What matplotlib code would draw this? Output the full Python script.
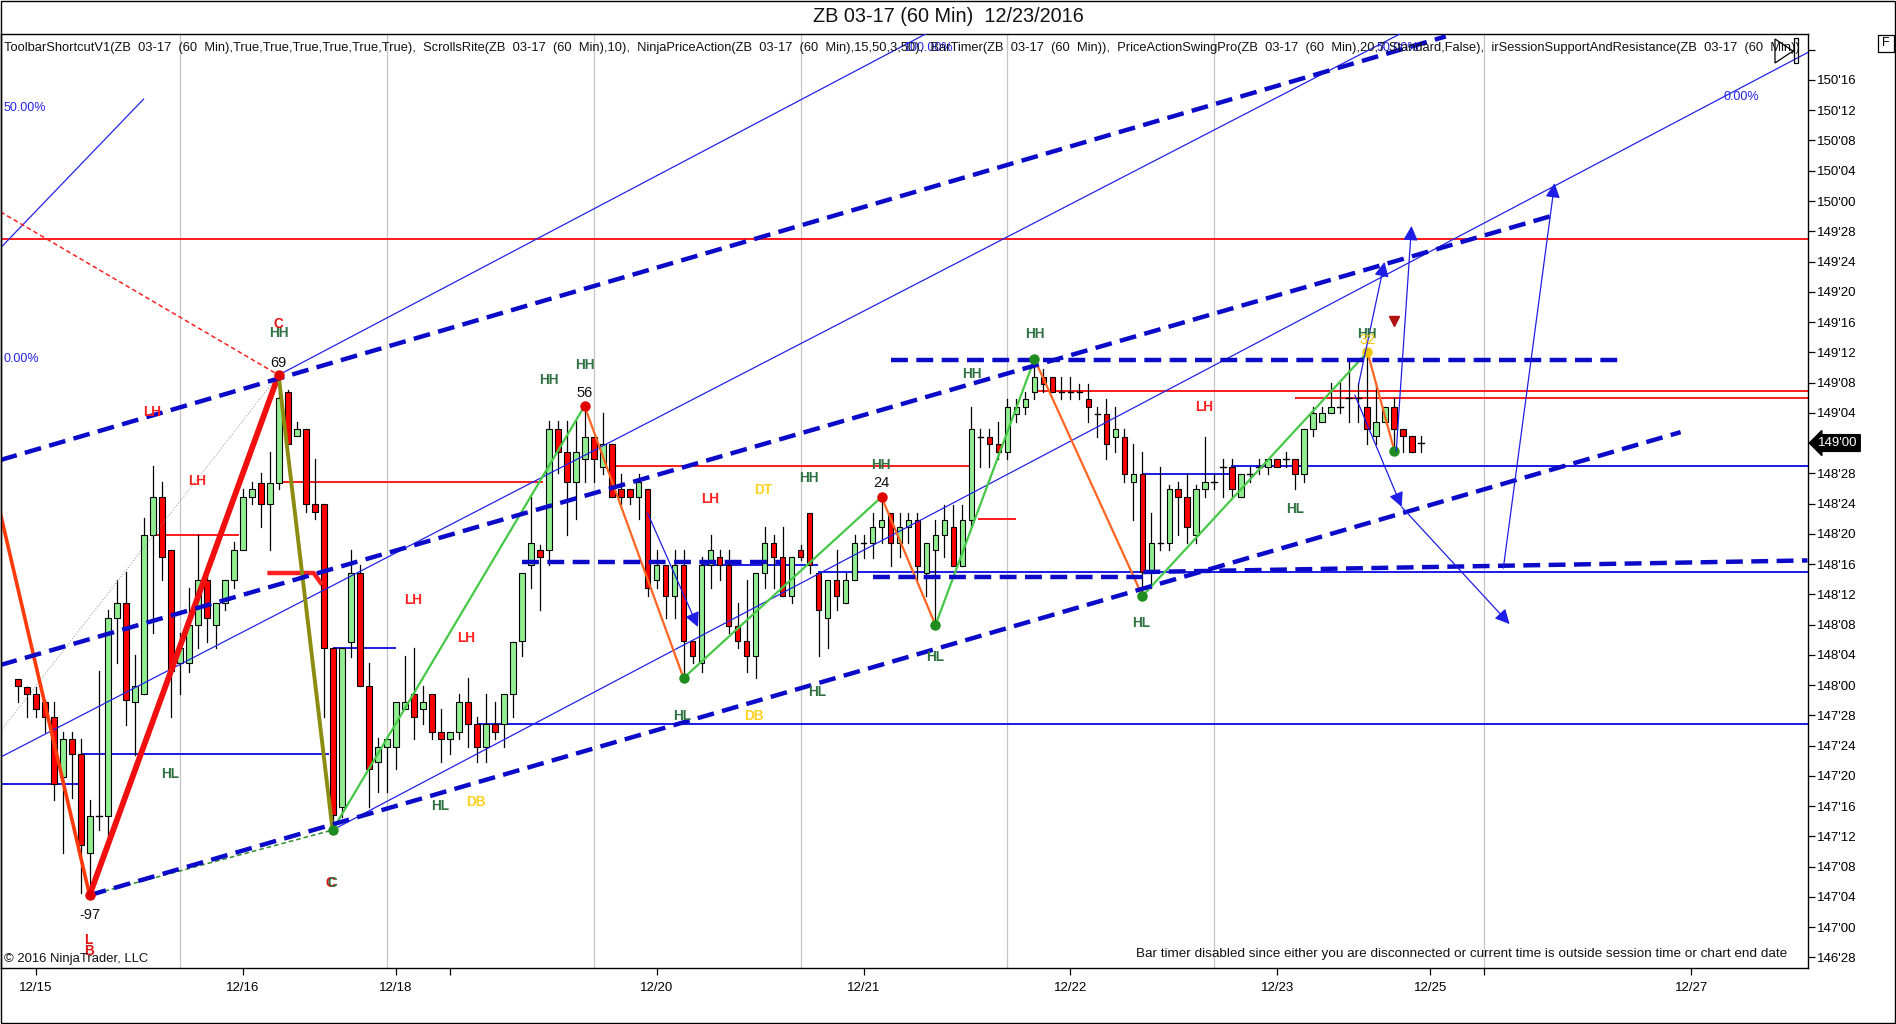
import matplotlib
matplotlib.use('Agg')
import matplotlib.pyplot as plt
from matplotlib.patches import Rectangle, FancyArrowPatch, Polygon
import matplotlib.transforms as mtransforms
import numpy as np

# ---------------- data (ZB 03-17, 60 min bars) ----------------
opens = [
148.025, 147.992, 147.963, 147.930, 147.868, 147.620, 147.777, 147.715, 147.306, 147.459,
147.459, 148.277, 148.339, 147.930, 147.963, 148.620, 148.777, 148.558, 148.091, 148.091,
148.248, 148.434, 148.248, 148.339, 148.434, 148.558, 148.777, 148.835, 148.748, 148.835,
149.211, 149.029, 149.058, 148.748, 148.748, 148.153, 147.496, 148.178, 148.463, 147.996,
147.682, 147.744, 147.744, 147.901, 147.963, 147.901, 147.963, 147.806, 147.777, 147.806,
147.930, 147.839, 147.744, 147.839, 147.839, 147.963, 148.182, 148.496, 148.558, 148.558,
149.058, 148.963, 148.839, 148.934, 149.025, 148.901, 148.996, 148.810, 148.810, 148.777,
148.810, 148.434, 148.496, 148.368, 148.496, 148.182, 148.091, 148.496, 148.529, 148.496,
148.244, 148.182, 148.120, 148.463, 148.587, 148.529, 148.368, 148.558, 148.711, 148.463,
148.277, 148.434, 148.339, 148.434, 148.587, 148.587, 148.653, 148.711, 148.587, 148.653,
148.682, 148.463, 148.558, 148.620, 148.653, 148.492, 148.682, 149.025, 149.025, 148.996,
148.963, 149.120, 149.149, 149.211, 149.273, 149.273, 149.211, 149.211, 149.211, 149.182,
149.120, 149.120, 149.025, 149.025, 148.839, 148.872, 148.467, 148.587, 148.587, 148.810,
148.777, 148.620, 148.810, 148.839, 148.901, 148.901, 148.777, 148.872, 148.901, 148.901,
148.934, 148.934, 148.934, 148.872, 149.058, 149.087, 149.124, 149.149, 149.186, 149.186,
149.149, 149.029, 149.087, 149.149, 149.058, 149.029, 149.000]
highs = [
148.025, 147.992, 147.992, 147.938, 147.930, 147.806, 147.806, 147.777, 147.525, 148.058,
148.310, 148.434, 148.467, 148.124, 148.690, 148.905, 148.839, 148.558, 148.215, 148.401,
148.620, 148.463, 148.339, 148.434, 148.591, 148.810, 148.839, 148.876, 148.963, 149.281,
149.219, 149.087, 149.058, 148.934, 148.748, 148.153, 148.153, 148.558, 148.496, 148.091,
147.781, 147.777, 147.930, 148.120, 148.153, 147.996, 147.963, 147.901, 147.806, 147.963,
148.029, 147.868, 147.963, 147.930, 147.963, 148.178, 148.463, 148.777, 148.579, 149.091,
149.091, 149.091, 149.091, 149.153, 149.025, 149.124, 148.996, 148.872, 148.810, 148.872,
148.810, 148.558, 148.496, 148.558, 148.558, 148.182, 148.529, 148.620, 148.558, 148.558,
148.339, 148.434, 148.463, 148.653, 148.620, 148.653, 148.529, 148.579, 148.711, 148.463,
148.434, 148.558, 148.463, 148.620, 148.620, 148.711, 148.777, 148.711, 148.711, 148.711,
148.711, 148.587, 148.682, 148.744, 148.744, 148.744, 149.149, 149.058, 149.058, 149.087,
149.182, 149.182, 149.211, 149.347, 149.306, 149.273, 149.273, 149.273, 149.244, 149.244,
149.149, 149.182, 149.149, 149.058, 148.996, 148.963, 148.711, 148.901, 148.826, 148.839,
148.872, 148.826, 149.025, 148.872, 148.934, 148.934, 148.872, 148.901, 148.934, 148.934,
148.934, 148.963, 148.934, 149.058, 149.149, 149.149, 149.248, 149.248, 149.335, 149.248,
149.376, 149.248, 149.149, 149.186, 149.058, 149.029, 149.029]
lows = [
147.930, 147.868, 147.868, 147.806, 147.525, 147.306, 147.533, 147.140, 147.132, 147.401,
147.368, 148.091, 147.835, 147.711, 147.963, 148.215, 148.434, 147.868, 147.963, 148.054,
148.153, 148.178, 148.153, 148.310, 148.401, 148.558, 148.748, 148.653, 148.558, 148.810,
148.996, 149.029, 148.715, 148.686, 147.868, 147.401, 147.455, 148.116, 147.996, 147.496,
147.558, 147.558, 147.653, 147.901, 147.777, 147.839, 147.777, 147.682, 147.715, 147.777,
147.744, 147.682, 147.682, 147.777, 147.744, 147.868, 148.120, 148.401, 148.310, 148.496,
148.876, 148.620, 148.686, 148.839, 148.839, 148.872, 148.777, 148.748, 148.748, 148.686,
148.368, 148.401, 148.277, 148.277, 148.029, 148.091, 148.054, 148.401, 148.434, 148.215,
148.153, 148.054, 148.029, 148.401, 148.401, 148.368, 148.339, 148.517, 148.463, 148.120,
148.153, 148.310, 148.339, 148.434, 148.525, 148.525, 148.587, 148.492, 148.529, 148.587,
148.434, 148.368, 148.248, 148.529, 148.492, 148.492, 148.653, 148.901, 148.901, 148.934,
148.934, 149.087, 149.120, 149.182, 149.211, 149.211, 149.182, 149.182, 149.182, 149.087,
149.025, 148.934, 148.963, 148.839, 148.682, 148.368, 148.401, 148.558, 148.558, 148.620,
148.587, 148.587, 148.777, 148.810, 148.777, 148.777, 148.777, 148.839, 148.872, 148.872,
148.901, 148.901, 148.810, 148.839, 149.029, 149.087, 149.124, 149.124, 149.087, 149.087,
148.996, 148.996, 149.087, 148.967, 148.963, 148.963, 148.963]
closes = [
147.996, 147.963, 147.901, 147.868, 147.591, 147.777, 147.715, 147.339, 147.459, 147.459,
148.277, 148.339, 147.938, 147.996, 148.620, 148.777, 148.529, 148.058, 148.153, 148.248,
148.434, 148.277, 148.339, 148.434, 148.558, 148.777, 148.810, 148.748, 148.835, 149.186,
148.996, 149.058, 148.748, 148.715, 148.153, 147.463, 148.153, 148.463, 147.996, 147.653,
147.744, 147.777, 147.930, 147.930, 147.868, 147.930, 147.806, 147.777, 147.806, 147.930,
147.839, 147.744, 147.839, 147.806, 147.963, 148.178, 148.463, 148.587, 148.529, 149.058,
148.963, 148.839, 148.963, 149.025, 148.934, 148.996, 148.777, 148.777, 148.777, 148.839,
148.401, 148.496, 148.368, 148.496, 148.182, 148.120, 148.496, 148.558, 148.496, 148.244,
148.182, 148.120, 148.463, 148.587, 148.529, 148.368, 148.529, 148.529, 148.496, 148.310,
148.434, 148.368, 148.434, 148.587, 148.587, 148.653, 148.682, 148.587, 148.653, 148.682,
148.492, 148.587, 148.620, 148.682, 148.492, 148.682, 149.058, 149.025, 148.996, 148.963,
149.149, 149.149, 149.182, 149.273, 149.244, 149.211, 149.211, 149.211, 149.211, 149.149,
149.120, 148.996, 149.058, 148.872, 148.872, 148.467, 148.587, 148.587, 148.810, 148.777,
148.653, 148.810, 148.839, 148.839, 148.901, 148.810, 148.872, 148.872, 148.901, 148.934,
148.901, 148.934, 148.872, 149.058, 149.124, 149.124, 149.149, 149.149, 149.186, 149.186,
149.058, 149.087, 149.149, 149.058, 149.029, 148.963, 149.000]

# x axis (bar index) labels
date_tick_pos = [2, 25, 42, 71, 94, 117, 140, 157, 186]
date_tick_labels = ['12/15', '12/16', '12/18', '12/20', '12/21', '12/22', '12/23', '12/25', '12/27']
minor_tick_pos = [48, 163]
grid_pos = [18, 41, 64, 87, 110, 133, 163]
x_range = (-1.9, 198.9)
y_range = (146.831, 150.690)
last_price = 149.0

# swing points (bar index, kind) and swing labels
swing_idx = [8, 29, 35, 63, 74, 96, 102, 113, 125, 150, 153]
swing_kind = ['L', 'H', 'L', 'H', 'L', 'H', 'L', 'H', 'L', 'H', 'L']
swing_dot_colors = ['#E00000', '#E00000', '#1E8C1E', '#E00000', '#1E8C1E', '#E00000',
                    '#1E8C1E', '#1E8C1E', '#1E8C1E', '#F2C200', '#1E8C1E']
swing_numbers = [('-97', 8, 147.050), ('69', 29, 149.331), ('56', 63, 149.207), ('24', 96, 148.835)]

hh_labels = [(59.0, 149.260), (63.0, 149.322), (87.9, 148.855), (95.9, 148.909),
             (106.0, 149.285), (113.0, 149.450), (149.9, 149.450), (29.0, 149.455)]
hl_labels = [(16.9, 147.632), (46.9, 147.500), (73.9, 147.872), (88.9, 147.971),
             (102.0, 148.116), (124.9, 148.256), (142.0, 148.727)]
lh_labels = [(14.9, 149.128), (19.9, 148.843), (43.9, 148.351), (49.8, 148.194),
             (77.0, 148.769), (131.9, 149.149)]
dt_labels = [(82.9, 148.806)]
db_labels = [(50.9, 147.517), (81.8, 147.872)]

# drawing objects: thick dashed channel lines ((bar, price), (bar, price))
dashed_lines = [((-1.9, 148.930), (158.7, 150.680)),
                ((-1.9, 148.083), (170.8, 149.942)),
                ((8.0, 147.132), (184.8, 149.045)),
                ((97.1, 149.343), (178.1, 149.343)),
                ((56.1, 148.508), (84.8, 148.508)),
                ((95.1, 148.446), (125.1, 148.446)),
                ((125.1, 148.467), (198.9, 148.515))]
thin_blue_lines = [((-1.9, 147.702), (153.6, 150.690)),
                   ((35.0, 147.401), (198.9, 150.613)),
                   ((29.0, 149.281), (100.9, 150.690)),
                   ((-1.9, 149.806), (14.0, 150.421)),
                   ((29.0, 149.281), (35.0, 147.401))]
red_hlines = [(149.843, -1.9, 198.9), (149.215, 112.9, 198.9), (149.186, 142.0, 198.9),
              (148.905, 66.2, 105.7), (148.839, 29.4, 58.4), (148.620, 15.1, 24.6),
              (148.686, 106.7, 111.0)]
blue_hlines = [(148.872, 125.1, 134.8), (148.905, 134.8, 198.9), (148.467, 88.9, 198.9),
               (148.496, 75.9, 88.9), (147.839, 51.1, 198.9), (148.153, 35.0, 42.0),
               (147.715, 7.0, 34.6), (147.591, -1.9, 6.7)]
arrows = [((70.0, 148.711), (75.6, 148.240)),
          ((149.0, 149.240), (151.9, 149.748)),
          ((153.2, 148.967), (154.9, 149.897)),
          ((148.6, 149.198), (153.8, 148.736)),
          ((153.8, 148.736), (165.8, 148.252)),
          ((165.1, 148.483), (170.8, 150.074))]

# ---------------- figure ----------------
W, H = 1896, 1024
fig = plt.figure(figsize=(W / 100, H / 100), dpi=100)
fig.patch.set_facecolor('white')
ax = fig.add_axes([0.5 / W, 1 - 968 / H, 1807 / W, (968 - 34) / H])
ax.set_xlim(*x_range)
ax.set_ylim(*y_range)
ax.set_facecolor('white')

SANS = ['Liberation Sans', 'DejaVu Sans']
NARROW = ['Liberation Sans Narrow', 'Liberation Sans', 'DejaVu Sans']

# grid
for g in grid_pos:
    ax.axvline(g, color='#C4C4C4', lw=0.9, zorder=0.5)

# horizontal support/resistance lines
for p, a, b in red_hlines:
    ax.plot([a, b], [p, p], color='#FF1A1A', lw=1.4, zorder=1.5, solid_capstyle='butt')
for p, a, b in blue_hlines:
    ax.plot([a, b], [p, p], color='#1A1AE6', lw=1.4, zorder=1.5, solid_capstyle='butt')

# candles
n = len(closes)
bw = 0.66
for i in range(n):
    o, h, l, c = opens[i], highs[i], lows[i], closes[i]
    ax.plot([i, i], [l, h], color='black', lw=0.9, zorder=2)
    if abs(c - o) < 0.004:
        ax.plot([i - bw / 2, i + bw / 2], [o, o], color='black', lw=1.0, zorder=3)
    else:
        col = '#90EE90' if c > o else '#FF0000'
        ax.add_patch(Rectangle((i - bw / 2, min(o, c)), bw, abs(c - o), facecolor=col,
                               edgecolor='black', lw=0.8, zorder=3))

# thin channel lines
for (x0, y0), (x1, y1) in thin_blue_lines:
    ax.plot([x0, x1], [y0, y1], color='#2323E8', lw=0.9, zorder=4)

# gray dotted and red dashed guide lines to the 69 swing high
hi69 = highs[swing_idx[1]]
ax.plot([x_range[0], swing_idx[1]], [147.810, hi69], color='#909090', lw=0.7, ls=(0, (1, 2)), zorder=4)
ax.plot([x_range[0], swing_idx[1]], [149.955, hi69], color='#FF2020', lw=1.1, ls=(0, (3, 2)), zorder=4)
# green dashed from -97 low to C low
ax.plot([swing_idx[0], swing_idx[2]], [lows[swing_idx[0]], lows[swing_idx[2]]],
        color='#2E8B2E', lw=1.1, ls=(0, (3, 2)), zorder=4)

# thick red short line
ax.plot([28, 32.9, 33.7], [148.463, 148.463, 148.422], color='#FF2020', lw=3.2, zorder=4)

# swing lines
sp = [lows[i] if k == 'L' else highs[i] for i, k in zip(swing_idx, swing_kind)]
ax.plot([x_range[0], swing_idx[0]], [148.707, sp[0]], color='#FF3A0A', lw=2.6, zorder=5)
ax.plot([swing_idx[0], swing_idx[1]], [sp[0], sp[1]], color='#F01010', lw=4.2, zorder=5,
        solid_capstyle='round')
ax.plot([swing_idx[1], swing_idx[2]], [sp[1], sp[2]], color='#8C8C10', lw=2.8, zorder=5)
for j in range(2, len(swing_idx) - 1):
    col = '#45C845' if swing_kind[j] == 'L' else '#FF6420'
    ax.plot([swing_idx[j], swing_idx[j + 1]], [sp[j], sp[j + 1]], color=col, lw=1.6, zorder=5)

# thick dashed channel lines
for (x0, y0), (x1, y1) in dashed_lines:
    ax.plot([x0, x1], [y0, y1], color='#0A0AC8', lw=3.2, ls=(0, (3.8, 1.9)), zorder=6,
            dash_capstyle='butt')

# swing dots
for i, k, c in zip(swing_idx, swing_kind, swing_dot_colors):
    y = lows[i] if k == 'L' else highs[i]
    ax.plot([i], [y], 'o', ms=6.5, color=c, mec=c, zorder=7)

# arrows
for (x0, y0), (x1, y1) in arrows:
    ax.add_patch(FancyArrowPatch((x0, y0), (x1, y1), arrowstyle='-|>', mutation_scale=22,
                                 color='#1E1EE6', lw=0.9, zorder=7, shrinkA=0, shrinkB=0))

# small dark red triangle
ax.plot([153], [149.504], marker='v', ms=7, color='#B01010', zorder=7)

# swing text labels
lab_kw = dict(fontsize=9.8, fontweight='bold', ha='center', va='center', zorder=8, family=SANS)
for x, y in hh_labels:
    ax.text(x, y, 'HH', color='#2E7040', **lab_kw)
for x, y in hl_labels:
    ax.text(x, y, 'HL', color='#2E7040', **lab_kw)
for x, y in lh_labels:
    ax.text(x, y, 'LH', color='#FF2020', **lab_kw)
for x, y in dt_labels:
    ax.text(x, y, 'DT', color='#FFD21F', **lab_kw)
for x, y in db_labels:
    ax.text(x, y, 'DB', color='#FFD21F', **lab_kw)
ax.text(29.0, 149.490, 'C', color='#E01010', **lab_kw)
ax.text(34.8, 147.182, 'C', color='#E01010', **lab_kw)
ax.text(35.0, 147.182, 'C', color='#2E7040', **lab_kw)
ax.text(7.9, 146.945, 'L', color='#E01010', **lab_kw)
ax.text(7.9, 146.900, 'B', color='#E01010', **lab_kw)
for s, x, y in swing_numbers:
    ax.text(x, y, s, color='#101010', fontsize=10.5, ha='center', va='center', zorder=8, family=SANS)
ax.text(150.0, 149.426, '32', color='#F2C200', fontsize=10.5, ha='center', va='center', zorder=8,
        family=SANS)

# percent labels of the channel tool
pct_kw = dict(color='#2323E8', fontsize=9, va='center', zorder=8, family=SANS)
ax.text(-1.6, 150.384, '50.00%', ha='left', **pct_kw)
ax.text(-1.6, 149.347, '0.00%', ha='left', **pct_kw)
ax.text(191.5, 150.430, '0.00%', ha='center', **pct_kw)

# indicator header line
hdr = ("ToolbarShortcutV1(ZB  03-17  (60  Min),True,True,True,True,True,True),  "
       "ScrollsRite(ZB  03-17  (60  Min),10),  NinjaPriceAction(ZB  03-17  (60  Min),15,50,3,50),  "
       "BarTimer(ZB  03-17  (60  Min)),  PriceActionSwingPro(ZB  03-17  (60  Min),20,7,Standard,False),  "
       "irSessionSupportAndResistance(ZB  03-17  (60  Min))")
ax.text(3 / 1807, (968 - 48) / 934, hdr, transform=ax.transAxes, fontsize=9.32, ha='left',
        va='center', color='#111111', family=NARROW, zorder=9, clip_on=True)
ax.text(903 / 1807, (968 - 48) / 934, '100.00%', transform=ax.transAxes, ha='left', clip_on=True,
        **pct_kw)
ax.text(1376 / 1807, (968 - 48) / 934, '50.00%', transform=ax.transAxes, ha='left', clip_on=True,
        **pct_kw)

ax.text(4 / 1807, (968 - 959) / 934, '\u00a9 2016 NinjaTrader, LLC', transform=ax.transAxes,
        fontsize=9.4, ha='left', va='center', family=NARROW, color='#111111', zorder=9)
ax.text(1787 / 1807, (968 - 954) / 934,
        'Bar timer disabled since either you are disconnected or current time is outside '
        'session time or chart end date', transform=ax.transAxes, fontsize=9.7, ha='right',
        va='center', family=NARROW, color='#111111', zorder=9)

# axes styling
for s in ax.spines.values():
    s.set_color('black')
    s.set_linewidth(1.0)
ax.yaxis.tick_right()
yt = np.arange(146.875, 150.63, 0.125)


def fmt(p):
    whole = int(np.floor(p + 1e-9))
    t = int(round((p - whole) * 32))
    if t == 32:
        whole += 1
        t = 0
    return f"{whole}'{t:02d}"


ylabels = [fmt(p) if p < 150.6 else '' for p in yt]
ax.set_yticks(yt)
ax.set_yticklabels(ylabels, family=SANS, fontsize=9.5)
ax.tick_params(axis='y', direction='out', length=5, width=0.9, pad=2, colors='black')
ax.set_xticks(date_tick_pos)
ax.set_xticklabels(date_tick_labels, family=SANS, fontsize=9.5)
ax.set_xticks(minor_tick_pos, minor=True)
ax.tick_params(axis='x', which='both', direction='out', length=5, width=0.9, pad=5)

# current price marker
trans = mtransforms.blended_transform_factory(ax.transAxes, ax.transData)
ax.text(1.006, last_price, "149'00", transform=trans, color='white', fontsize=9.5, family=SANS,
        va='center', ha='left', zorder=10, clip_on=False,
        bbox=dict(boxstyle='larrow,pad=0.18', fc='black', ec='black'))

# title
fig.text(0.5, 1 - 16 / H, 'ZB 03-17 (60 Min)  12/23/2016', ha='center', va='center',
         fontsize=14.3, family=SANS, color='#111111')


# decorations: F box, play icon, outer frame
def fx(x):
    return x / W


def fy(y):
    return 1 - y / H


fig.add_artist(Rectangle((fx(1878), fy(52)), 16 / W, 17 / H, transform=fig.transFigure,
                         fill=False, lw=0.9, ec='black'))
fig.text(fx(1886), fy(43.5), 'F', ha='center', va='center', fontsize=9, family=SANS)
fig.add_artist(Polygon([[fx(1775), fy(39)], [fx(1793), fy(51)], [fx(1775), fy(63)]],
                       closed=True, fill=False, lw=0.9, ec='black', transform=fig.transFigure))
fig.add_artist(Rectangle((fx(1794), fy(63)), 4 / W, 25 / H, transform=fig.transFigure,
                         fill=False, lw=0.9, ec='black'))
fig.add_artist(Rectangle((0.5 / W, 1.5 / H), 1 - 1.5 / W, 1 - 2.5 / H, transform=fig.transFigure,
                         fill=False, lw=1.0, ec='black'))

fig.savefig('out.png', dpi=100)
